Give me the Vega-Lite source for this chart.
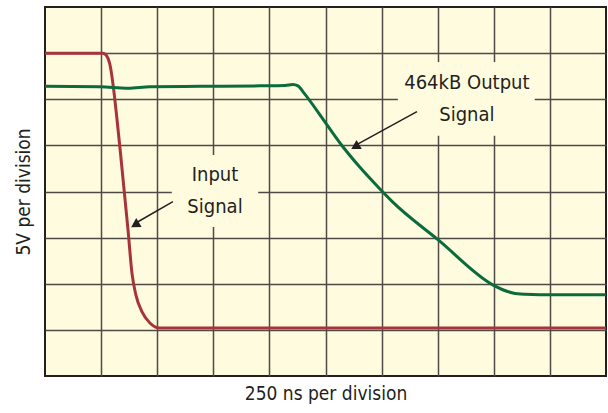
{
  "$schema": "https://vega.github.io/schema/vega-lite/v6.json",
  "width": 561,
  "height": 369,
  "autosize": {"type": "none"},
  "padding": {"left": 45, "top": 7, "right": 2, "bottom": 37},
  "background": "white",
  "config": {
    "view": {"fill": "#fffbdf", "stroke": "#231f20", "strokeWidth": 2},
    "axis": {"labels": false, "ticks": false, "domain": false, "gridColor": "#4d4a45", "gridWidth": 1.5, "gridOpacity": 1,
      "titleFont": "DejaVu Sans Condensed, Liberation Sans, sans-serif", "titleFontSize": 19, "titleFontWeight": "normal", "titleColor": "#231f20"}
  },
  "datasets": {
    "traces": [
      {"series": "Input", "x": 0, "y": 7.0},
      {"series": "Input", "x": 1.03, "y": 7.0},
      {"series": "Input", "x": 1.10, "y": 6.94},
      {"series": "Input", "x": 1.15, "y": 6.79},
      {"series": "Input", "x": 1.34, "y": 4.9},
      {"series": "Input", "x": 1.48, "y": 3.17},
      {"series": "Input", "x": 1.55, "y": 2.23},
      {"series": "Input", "x": 1.62, "y": 1.76},
      {"series": "Input", "x": 1.73, "y": 1.39},
      {"series": "Input", "x": 1.87, "y": 1.15},
      {"series": "Input", "x": 2.05, "y": 1.04},
      {"series": "Input", "x": 10, "y": 1.04},
      {"series": "Output", "x": 0, "y": 6.28},
      {"series": "Output", "x": 0.98, "y": 6.27},
      {"series": "Output", "x": 1.48, "y": 6.24},
      {"series": "Output", "x": 1.87, "y": 6.27},
      {"series": "Output", "x": 2.76, "y": 6.28},
      {"series": "Output", "x": 3.83, "y": 6.29},
      {"series": "Output", "x": 4.28, "y": 6.30},
      {"series": "Output", "x": 4.42, "y": 6.32},
      {"series": "Output", "x": 4.51, "y": 6.29},
      {"series": "Output", "x": 4.60, "y": 6.16},
      {"series": "Output", "x": 5.03, "y": 5.44},
      {"series": "Output", "x": 5.31, "y": 4.97},
      {"series": "Output", "x": 5.61, "y": 4.53},
      {"series": "Output", "x": 5.92, "y": 4.12},
      {"series": "Output", "x": 6.20, "y": 3.77},
      {"series": "Output", "x": 7.01, "y": 2.95},
      {"series": "Output", "x": 7.99, "y": 1.97},
      {"series": "Output", "x": 8.16, "y": 1.87},
      {"series": "Output", "x": 8.34, "y": 1.80},
      {"series": "Output", "x": 8.56, "y": 1.77},
      {"series": "Output", "x": 8.82, "y": 1.76},
      {"series": "Output", "x": 10, "y": 1.76}
    ],
    "boxes": [
      {"x": 2.26, "x2": 3.80, "y": 3.23, "y2": 4.79},
      {"x": 6.29, "x2": 8.73, "y": 5.21, "y2": 6.81}
    ],
    "labels": [
      {"x": 3.03, "y": 4.36, "text": "Input"},
      {"x": 3.03, "y": 3.67, "text": "Signal"},
      {"x": 7.52, "y": 6.36, "text": "464kB Output"},
      {"x": 7.52, "y": 5.66, "text": "Signal"}
    ],
    "arrows": [
      {"arrow": "in", "x": 2.28, "y": 3.78},
      {"arrow": "in", "x": 1.58, "y": 3.29},
      {"arrow": "out", "x": 6.63, "y": 5.73},
      {"arrow": "out", "x": 5.50, "y": 4.98}
    ],
    "heads": [
      {"arrow": "in", "x": 1.605, "y": 3.277, "angle": 239},
      {"arrow": "out", "x": 5.53, "y": 4.97, "angle": 240}
    ]
  },
  "encoding": {
    "x": {"field": "x", "type": "quantitative", "scale": {"domain": [0, 10], "nice": false, "zero": false},
      "axis": {"title": "250 ns per division", "values": [1,2,3,4,5,6,7,8,9], "titlePadding": 8}},
    "y": {"field": "y", "type": "quantitative", "scale": {"domain": [0, 8], "nice": false, "zero": false},
      "axis": {"title": "5V per division", "values": [1,2,3,4,5,6,7], "titlePadding": 12}}
  },
  "layer": [
    {
      "data": {"name": "boxes"},
      "mark": {"type": "rect", "fill": "#fffbdf", "stroke": null},
      "encoding": {"x2": {"field": "x2"}, "y2": {"field": "y2"}}
    },
    {
      "data": {"name": "traces"},
      "mark": {"type": "line", "strokeWidth": 3, "interpolate": "monotone"},
      "encoding": {
        "color": {"field": "series", "type": "nominal", "scale": {"domain": ["Input", "Output"], "range": ["#a8343a", "#0b6b3d"]}, "legend": null}
      }
    },
    {
      "data": {"name": "arrows"},
      "mark": {"type": "line", "strokeWidth": 1.5, "color": "#231f20"},
      "encoding": {"detail": {"field": "arrow"}}
    },
    {
      "data": {"name": "heads"},
      "mark": {"type": "point", "shape": "triangle-up", "filled": true, "size": 110, "color": "#231f20", "opacity": 1},
      "encoding": {"angle": {"field": "angle", "type": "quantitative", "scale": null}}
    },
    {
      "data": {"name": "labels"},
      "mark": {"type": "text", "font": "DejaVu Sans Condensed, Liberation Sans, sans-serif", "fontSize": 20, "color": "#231f20", "align": "center", "baseline": "middle"},
      "encoding": {"text": {"field": "text"}}
    }
  ]
}
